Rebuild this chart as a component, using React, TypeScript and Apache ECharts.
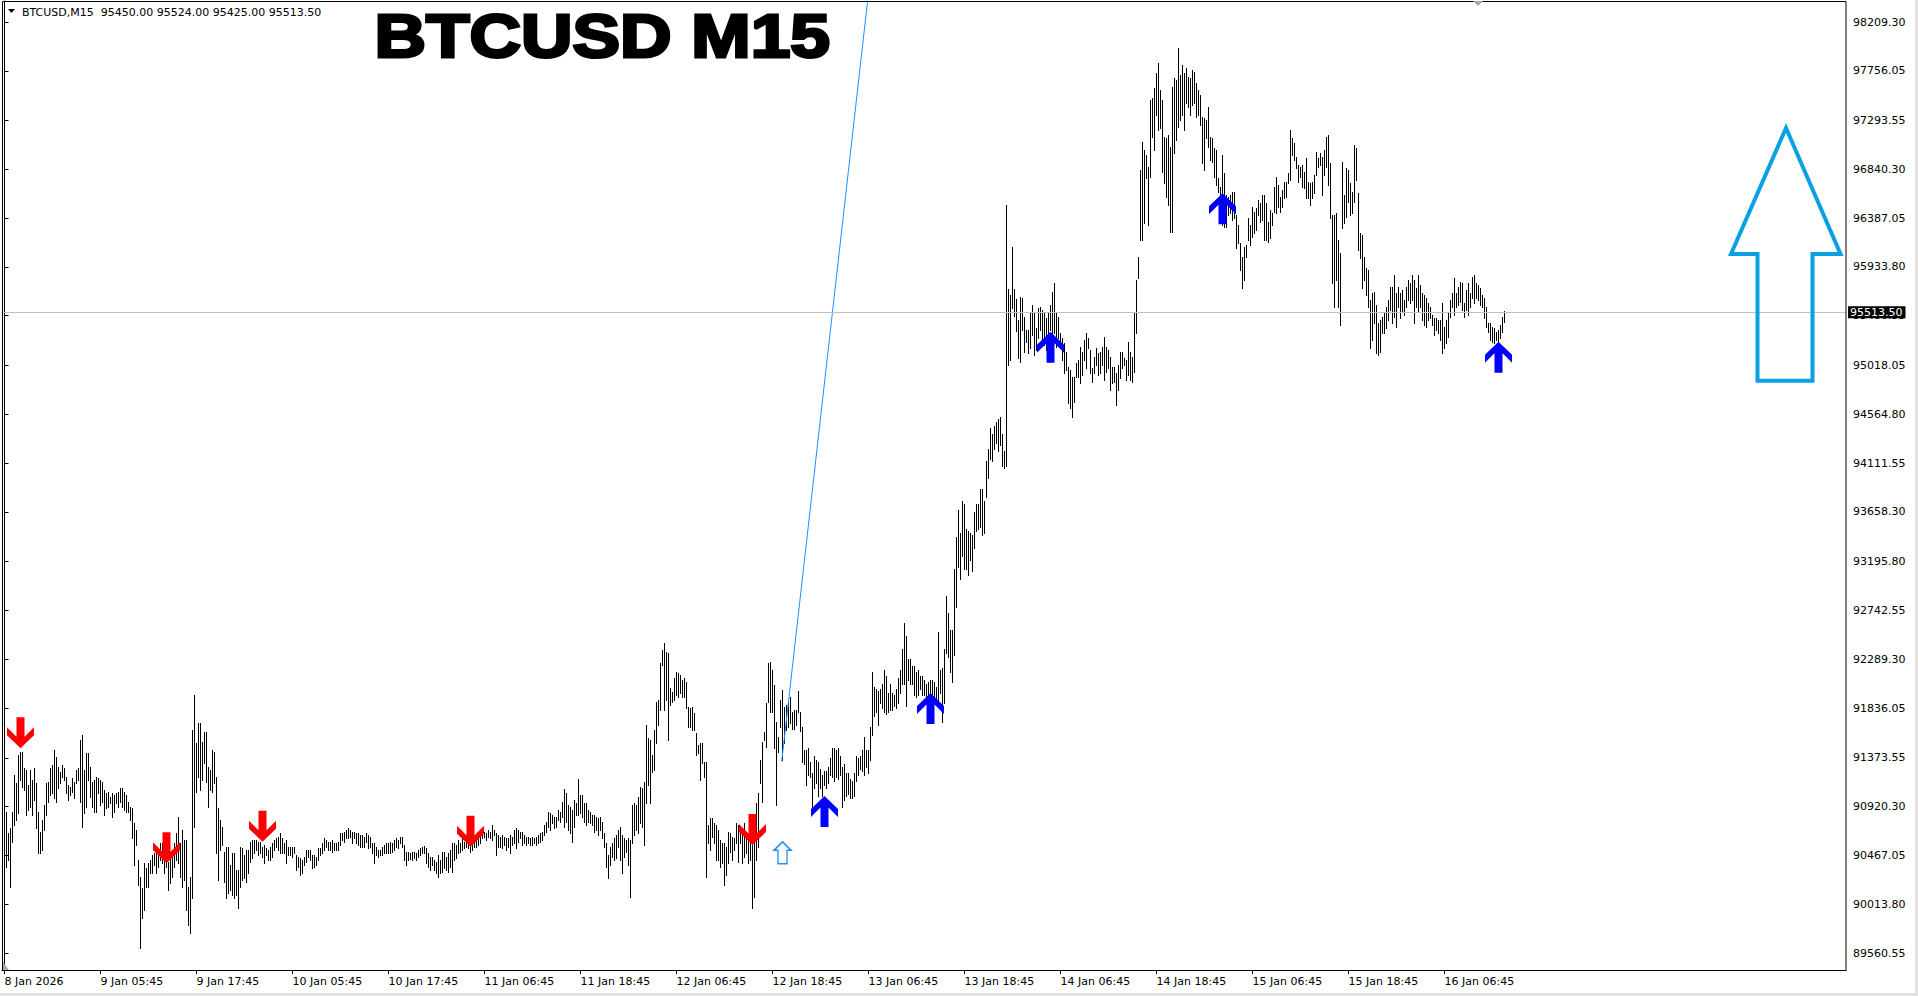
import React, { useEffect, useRef } from 'react';
import * as echarts from 'echarts';

// ---------- chart data ----------
const symbolName = 'BTCUSD';
const timeframe = 'M15';
const lastOpen = 95450.0;
const lastHigh = 95524.0;
const lastLow = 95425.0;
const lastClose = 95513.5;
const bidPrice = 95513.5;

// M15 bar highs (bar 0 = 8 Jan 2026 17:45)
const barHighs = [
  90781,90874,90672,90719,90874,91214,91137,91400,91431,91431,
  91276,91261,91121,91261,91168,91276,91137,90874,90688,90796,
  90936,91137,91152,91276,91307,91447,91385,91292,91245,91307,
  91276,91199,91121,91106,91183,91152,91261,91276,91540,91586,
  91261,91416,91416,91292,91152,91168,91199,91183,91168,91152,
  91075,91044,91060,91013,91044,91029,91044,91060,91091,91091,
  91060,91029,90967,90920,90905,90765,90703,90425,90270,90161,
  90394,90347,90394,90425,90471,90487,90518,90487,90580,90580,
  90456,90425,90409,90440,90487,90580,90672,90827,90580,90703,
  90610,90610,90177,90270,91632,91958,91509,91694,91694,91524,
  91617,91617,91292,91261,91447,91431,91199,90905,90796,90734,
  90502,90549,90549,90378,90487,90487,90332,90332,90549,90533,
  90471,90518,90518,90595,90610,90610,90610,90595,90595,90549,
  90564,90533,90518,90549,90580,90610,90626,90641,90672,90626,
  90580,90610,90549,90549,90549,90549,90471,90456,90440,90425,
  90456,90518,90518,90518,90471,90471,90456,90533,90533,90580,
  90626,90610,90595,90595,90610,90580,90580,90595,90672,90672,
  90688,90703,90719,90703,90688,90688,90672,90672,90657,90657,
  90641,90672,90657,90641,90580,90580,90549,90518,90518,90549,
  90564,90580,90580,
  90595,90579,90610,90626,90610,90641,90641,90564,90502,90502,
  90493,90502,90502,90486,90517,90533,90548,90554,90533,90486,
  90455,90455,90424,90409,90471,90424,90502,90502,90455,90486,
  90517,90579,90579,90564,90610,90579,90626,90595,90610,90579,
  90595,90610,90626,90641,90626,90657,90688,90688,90672,90703,
  90688,90749,90703,90672,90657,90641,90657,90641,90626,90626,
  90657,90641,90703,90719,90703,90688,90688,90657,90641,90641,
  90626,90641,90626,90641,90657,90672,90688,90749,90780,90873,
  90858,90842,90827,90827,90889,90873,90966,91081,91044,90935,
  90920,90889,90982,90951,91174,91028,91028,90951,90951,90889,
  90873,90842,90842,90827,90811,90827,90780,90672,90579,90471,
  90548,90579,90626,90657,90703,90734,90657,90626,90610,90626,
  90610,90935,90951,90935,91013,91106,91090,91152,91678,91555,
  91539,91400,91632,91895,91911,92251,92375,92437,92360,92344,
  92019,91988,92112,92174,92158,92143,92097,92112,92081,91849,
  91833,91849,91787,91601,91493,91508,91508,91338,91338,90749,
  90811,90811,90765,90749,90703,90610,90579,90579,90548,90688,
  90672,90641,90626,90765,90749,90703,90672,90765,90641,90626,
  90703,90579,90672,90951,91044,91353,91524,91617,91880,92251,
  92267,92189,92050,91709,91570,91911,92004,91849,91864,91911,91942,
  91801,91820,91820,91996,91801,91664,91449,91449,91469,91332,
  91234,91390,91351,91332,91273,91214,91254,91254,91293,91371,
  91469,91469,91449,91469,91390,91293,91312,91234,91234,91175,
  91156,91234,91390,91371,91390,91449,91566,91449,91449,91664,
  92172,92035,92016,91996,92016,92055,92192,92133,91976,92055,
  91976,91957,92016,92113,92192,92387,92622,92504,92289,92289,
  92231,92231,92172,92192,92133,92133,92094,92055,92074,92094,
  92094,92074,92035,92543,92192,92211,92387,92876,92719,92563,
  92563,93130,93423,93677,93462,93755,93736,93501,93482,93462,
  93443,93658,93736,93736,93873,93873,93755,94127,94244,94440,
  94381,94459,94498,94518,94537,94381,94225,96512,95730,95671,
  96121,95730,95632,95437,
  95658,95642,95472,95348,95348,95503,95580,95518,95363,95549,
  95565,95534,95503,95456,95503,95580,95704,95781,95518,95472,
  95317,95270,95224,95147,95007,94976,94914,94914,95038,95069,
  95193,95147,95255,95317,95270,95162,94992,95100,95178,95131,
  95147,95193,95286,95193,95162,95100,95007,95007,94945,95023,
  95147,95147,95085,95069,95240,95147,95100,95503,95812,96029,
  96834,97098,97020,96974,96865,97485,97500,97593,97732,97825,
  97578,97485,97144,97129,97159,97051,97609,97686,97670,97965,
  97717,97810,97732,97779,97701,97686,97763,97748,97640,97578,
  97531,97330,97314,97299,97423,97144,97129,97036,97020,96757,
  96680,96974,96803,96602,96587,96602,96633,96633,96416,96323,
  96153,96029,96122,96138,96385,96323,96494,96447,96478,96556,
  96525,96602,96602,96525,96354,96463,96432,96680,96772,96695,
  96587,96649,96726,96726,96803,97206,97129,97082,96958,96881,
  96865,96881,96819,96943,96726,96710,96726,96788,97005,96943,
  96989,96958,97020,97144,97159,96896,96416,96416,96432,96184,
  96060,96912,96602,96850,96834,96710,96633,97067,97036,96618,
  96246,96231,96029,95921,95905,95627,95689,95704,95580,95410,
  95441,95472,95503,95565,95627,95750,95750,95859,95689,95750,
  95689,95720,95627,95750,95812,95781,95859,95812,95735,95859,
  95766,95689,95673,95642,95596,95565,95487,95456,95456,95441,
  95441,95596,95379,95441,95518,95627,95689,95828,95689,95750,
  95797,95781,95596,95720,95781,95689,95843,95859,95781,95766,
  95735,95673,95642,95565,95410,95410,95379,95363,95332,95348,
  95394,95472,95524,
];

// M15 bar lows
const barLows = [
  90177,90363,90425,90177,90595,90750,90796,90858,91168,91106,
  91075,90843,90889,90920,90843,90982,90719,90487,90487,90518,
  90703,90843,90967,91029,91044,90998,90967,91091,91137,91199,
  91168,91044,90982,91029,91060,90998,91137,91168,90967,90734,
  90858,90920,91168,91013,90920,90874,90874,91044,90936,90967,
  90843,90905,90920,90951,90827,90874,90951,90920,90967,90920,
  90889,90874,90874,90796,90626,90378,90564,90192,89604,89883,
  89960,90177,90177,90301,90301,90378,90301,90363,90425,90394,
  90301,90363,90146,90208,90270,90363,90425,90394,90270,90177,
  90239,89960,89821,89743,90069,90734,91060,91199,91075,91168,
  91323,91152,90920,91075,91060,91137,90487,90239,90518,90564,
  90223,90069,90115,90146,90099,90069,90099,89975,90177,90239,
  90254,90223,90301,90409,90440,90487,90518,90471,90487,90456,
  90394,90471,90425,90425,90456,90518,90549,90518,90487,90487,
  90487,90394,90471,90471,90456,90487,90332,90363,90285,90301,
  90378,90409,90456,90425,90347,90363,90378,90425,90471,90487,
  90518,90549,90518,90518,90502,90518,90518,90518,90564,90610,
  90595,90626,90626,90641,90580,90626,90580,90564,90549,90549,
  90549,90595,90533,90549,90487,90394,90471,90456,90471,90471,
  90487,90487,90487,
  90486,90502,90517,90548,90533,90579,90548,90424,90378,90424,
  90431,90424,90440,90424,90455,90471,90486,90493,90393,90362,
  90331,90378,90331,90300,90269,90300,90316,90347,90331,90316,
  90362,90316,90424,90440,90486,90502,90517,90533,90548,90533,
  90502,90517,90548,90548,90564,90579,90626,90641,90610,90641,
  90626,90610,90657,90471,90548,90548,90533,90564,90517,90548,
  90486,90564,90579,90533,90595,90626,90564,90579,90564,90579,
  90564,90564,90579,90564,90579,90595,90610,90657,90688,90734,
  90703,90765,90719,90734,90796,90780,90827,90734,90780,90703,
  90672,90595,90734,90842,90842,90858,90827,90780,90749,90780,
  90765,90749,90688,90703,90657,90703,90626,90548,90362,90254,
  90378,90455,90424,90440,90548,90424,90300,90455,90502,90378,
  90084,90579,90657,90703,90672,90765,90734,90564,90951,91121,
  90951,91245,91261,91508,91678,91818,92236,91818,91911,91539,
  91864,91895,91911,91957,91942,91973,91942,91942,91833,91663,
  91663,91632,91632,91400,91415,91167,91322,91198,90269,90579,
  90517,90641,90579,90424,90424,90362,90393,90192,90285,90393,
  90502,90424,90517,90579,90409,90579,90393,90455,90486,90393,
  90424,89975,90084,90424,90548,91137,90966,91539,91477,91895,
  91802,91802,91462,90935,91431,91663,91353,91508,91632,91663,91694,
  91644,91644,91683,91801,91625,91332,91312,91117,91214,91195,
  90901,91097,91136,91019,91097,91019,91117,91097,91136,91214,
  91195,91156,91195,91175,91214,90921,90980,91019,91038,90999,
  90999,91019,91156,91214,91273,91254,91214,91293,91234,91351,
  91586,91761,91801,91683,91879,91840,91801,91781,91801,91820,
  91820,91859,91840,91879,91976,92055,92055,91859,92094,92055,
  92055,91957,91937,91957,92016,91957,91957,91918,91879,91918,
  91937,91898,91898,91898,91976,91703,91879,92348,92309,92172,
  92074,92328,92778,93150,93032,93247,93130,93130,93071,93208,
  93111,93325,93482,93501,93521,93443,93462,93794,93970,94146,
  94127,94244,94303,94225,94283,94088,94068,94088,95026,95065,
  95554,95476,95339,95085,
  95054,95348,95147,95240,95131,95178,95301,95116,95162,95270,
  95348,95255,95209,95162,95317,95348,95317,95317,95193,95270,
  95193,95069,94945,94976,94667,94620,94543,94682,94914,94914,
  94852,94930,95069,94992,95178,94945,94868,94945,95023,94930,
  94945,95023,94883,94961,94992,94790,94852,94868,94651,94790,
  94899,94992,95023,94883,94930,94883,94868,94961,95317,95828,
  96184,96184,96339,96757,96323,96772,97144,97020,97345,97206,
  97221,96819,96710,96587,96509,96261,96261,96989,97113,97237,
  97299,97345,97206,97454,97423,97345,97438,97454,97330,97345,
  97252,96896,96834,97129,97051,96927,96912,96772,96695,96633,
  96587,96323,96308,96308,96416,96432,96370,96385,96107,96153,
  95905,95735,95812,96029,96184,96138,96215,96246,96277,96416,
  96354,96370,96184,96184,96169,96200,96323,96447,96432,96494,
  96447,96494,96571,96587,96710,96741,96974,96927,96850,96726,
  96772,96680,96664,96571,96571,96509,96571,96618,96788,96865,
  96881,96602,96788,96865,96695,96385,95781,95565,95812,95565,
  95394,96292,96339,96401,96540,96416,96432,96540,96741,96091,
  96014,95735,95812,95673,95565,95178,95255,95410,95131,95116,
  95147,95317,95317,95363,95441,95534,95410,95472,95379,95565,
  95456,95518,95487,95565,95627,95596,95627,95410,95565,95518,
  95565,95441,95394,95379,95441,95456,95394,95301,95348,95317,
  95255,95131,95178,95224,95286,95472,95565,95487,95565,95580,
  95611,95534,95472,95534,95487,95565,95642,95596,95642,95627,
  95580,95565,95456,95379,95332,95255,95240,95224,95255,95240,
  95270,95332,95425,
];

// time axis tick labels (bar index of each label)
const timeTickBars = [0, 48, 96, 144, 192, 240, 288, 336, 384, 432, 480, 528, 576, 624, 672, 720];
const timeTickLabels = [
  '8 Jan 2026', '9 Jan 05:45', '9 Jan 17:45', '10 Jan 05:45', '10 Jan 17:45', '11 Jan 06:45',
  '11 Jan 18:45', '12 Jan 06:45', '12 Jan 18:45', '13 Jan 06:45', '13 Jan 18:45', '14 Jan 06:45',
  '14 Jan 18:45', '15 Jan 06:45', '15 Jan 18:45', '16 Jan 06:45',
];

// price scale tick labels
const priceTicks = [
  98209.3, 97756.05, 97293.55, 96840.3, 96387.05, 95933.8, 95480.55, 95018.05, 94564.8, 94111.55,
  93658.3, 93195.8, 92742.55, 92289.3, 91836.05, 91373.55, 90920.3, 90467.05, 90013.8, 89560.55,
];

// signal arrows [bar index, price at arrow tip]
const sellSignals = [[8, 91462], [81, 90394], [129, 90595], [233, 90548], [374, 90564]];
const buySignals = [[410, 91019], [463, 91976], [523, 95332], [609, 96618], [747, 95240]];
const hollowSignals = [[389, 90594]];

// trend line [bar index, price]
const trendLine = [[388.6, 91338], [435, 98973]];

// big hollow arrow outline [bar index, price] (starts mid bottom edge so every corner is joined)
const bigArrow = [
  [890.25, 94877], [904, 94877], [904, 96054.1], [918, 96054.1], [890.75, 97225],
  [863.25, 96054.1], [876.5, 96054.1], [876.5, 94877], [890.25, 94877],
];

// ---------- styling ----------
const FONT = '"DejaVu Sans", Tahoma, sans-serif';
const UP_PATH = 'path://M13.5,0L27,13L27,21L17.5,11.5L17.5,31L9.5,31L9.5,11.5L0,21L0,13Z';
const DOWN_PATH = 'path://M13.5,31L27,18L27,10L17.5,19.5L17.5,0L9.5,0L9.5,19.5L0,10L0,18Z';
const HOLLOW_PATH = 'path://M8.5,0L17,8.5L13,8.5L13,22L4,22L4,8.5L0,8.5Z';

function buildOption() {
  const bars = barHighs.map((h, i) => [i, barLows[i], h]);
  const labelMap: Record<number, string> = {};
  timeTickBars.forEach((b, k) => { labelMap[b] = timeTickLabels[k]; });

  const header = `${symbolName},${timeframe}  ${lastOpen.toFixed(2)} ${lastHigh.toFixed(2)} ${lastLow.toFixed(2)} ${lastClose.toFixed(2)}`;

  return {
    animation: false,
    backgroundColor: '#ffffff',
    grid: { left: 2, right: 72, top: 1, bottom: 26, show: false },
    xAxis: {
      type: 'value',
      min: -1.25,
      max: 920.75,
      splitLine: { show: false },
      axisLine: { show: true, onZero: false, lineStyle: { color: '#000', width: 1 } },
      axisTick: { show: true, customValues: timeTickBars, length: 4, lineStyle: { color: '#000' } },
      axisLabel: {
        show: true,
        customValues: timeTickBars,
        formatter: (v: number) => labelMap[v] ?? '',
        align: 'left',
        margin: 6,
        padding: [0, 0, 0, 0],
        color: '#000',
        fontSize: 11,
        fontFamily: FONT,
      },
    },
    yAxis: {
      type: 'value',
      position: 'right',
      min: 89402.7,
      max: 98404.4,
      scale: true,
      splitLine: { show: false },
      axisLine: { show: true, lineStyle: { color: '#000', width: 1 } },
      axisTick: { show: true, customValues: priceTicks, length: 4, inside: false, lineStyle: { color: '#000' } },
      axisLabel: {
        show: true,
        customValues: priceTicks,
        formatter: (v: number) => v.toFixed(2),
        margin: 7,
        color: '#000',
        fontSize: 11,
        fontFamily: FONT,
      },
    },
    graphic: [
      { type: 'rect', z: 50, shape: { x: 2.5, y: 1.5, width: 1843.5, height: 969 }, style: { fill: 'none', stroke: '#000', lineWidth: 1 } },
      { type: 'polygon', z: 60, shape: { points: [[8, 9], [15, 9], [11.5, 13]] }, style: { fill: '#000' } },
      { type: 'text', z: 60, x: 22, y: 12, style: { text: header, font: `11px ${FONT}`, fill: '#000', align: 'left', verticalAlign: 'middle' } },
      {
        type: 'text', z: 60, x: 374.5, y: 36, scaleX: 1.15,
        style: {
          text: `${symbolName} ${timeframe}`, font: 'bold 62px "Liberation Sans", Arial, sans-serif',
          fill: '#000', stroke: '#000', lineWidth: 3, align: 'left', verticalAlign: 'middle',
        },
      },
      { type: 'polygon', z: 60, shape: { points: [[1473, 1], [1483, 1], [1478, 6]] }, style: { fill: '#a8a8a8' } },
      { type: 'polygon', z: 60, shape: { points: [[3, 962], [3, 970], [9, 970]] }, style: { fill: '#a8a8a8' } },
      { type: 'rect', z: 60, shape: { x: 1915, y: 0, width: 3, height: 996 }, style: { fill: '#e3e3e3' } },
      { type: 'rect', z: 60, shape: { x: 0, y: 993, width: 1918, height: 3 }, style: { fill: '#e3e3e3' } },
    ],
    series: [
      {
        type: 'custom',
        name: 'bars',
        data: bars,
        encode: { x: 0, y: [1, 2] },
        z: 2,
        renderItem: (params: any, api: any) => {
          const i = api.value(0);
          const lo = api.coord([i, api.value(1)]);
          const hi = api.coord([i, api.value(2)]);
          const x = Math.round(lo[0] - 0.5);
          const y1 = Math.round(hi[1]);
          const y2 = Math.round(lo[1]);
          return {
            type: 'rect',
            shape: { x, y: y1, width: 1, height: Math.max(1, y2 - y1 + 1) },
            style: { fill: '#000' },
          };
        },
      },
      {
        type: 'line',
        name: 'trend',
        data: trendLine,
        symbol: 'none',
        clip: true,
        z: 4,
        lineStyle: { color: '#1e90ff', width: 1 },
        markLine: {
          silent: true,
          symbol: ['none', 'none'],
          animation: false,
          lineStyle: { color: '#c0c0c0', width: 1, type: 'solid' },
          label: {
            show: true,
            position: 'end',
            distance: 2,
            formatter: () => bidPrice.toFixed(2),
            color: '#fff',
            backgroundColor: '#000',
            padding: [1, 3, 0, 2],
            fontSize: 11,
            fontFamily: FONT,
          },
          data: [{ yAxis: bidPrice }],
        },
      },
      {
        type: 'line',
        name: 'bigArrow',
        data: bigArrow,
        symbol: 'none',
        z: 5,
        lineStyle: { color: '#0aa0e4', width: 4, join: 'miter' },
      },
      {
        type: 'scatter',
        name: 'sell',
        data: sellSignals,
        symbol: DOWN_PATH,
        symbolSize: [27, 31],
        symbolOffset: [0, -15.5],
        z: 6,
        itemStyle: { color: '#ff0000', opacity: 1 },
      },
      {
        type: 'scatter',
        name: 'buy',
        data: buySignals,
        symbol: UP_PATH,
        symbolSize: [27, 31],
        symbolOffset: [0, 15.5],
        z: 6,
        itemStyle: { color: '#0000ff', opacity: 1 },
      },
      {
        type: 'scatter',
        name: 'hollow',
        data: hollowSignals,
        symbol: HOLLOW_PATH,
        symbolSize: [17, 22],
        symbolOffset: [0, 11],
        z: 6,
        itemStyle: { color: '#ffffff', borderColor: '#1e90ff', borderWidth: 1.5, opacity: 1 },
      },
    ],
  };
}

export default function App() {
  const ref = useRef<HTMLDivElement>(null);
  useEffect(() => {
    document.body.style.margin = '0';
    const chart = echarts.init(ref.current as HTMLDivElement, null, { renderer: 'svg' });
    chart.setOption(buildOption() as any);
    return () => chart.dispose();
  }, []);
  return (
    <div
      ref={ref}
      style={{ position: 'fixed', left: 0, top: 0, width: 1918, height: 996, background: '#fff' }}
    />
  );
}
